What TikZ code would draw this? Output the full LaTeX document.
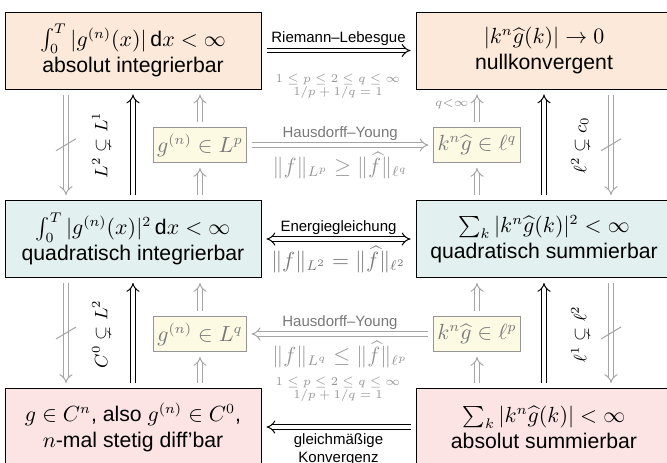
\documentclass[tikz,border=0pt]{standalone}
\usepackage{amsmath,amssymb}
\usepackage{fontspec}
\setmainfont{Liberation Sans}
\usetikzlibrary{arrows.meta,calc}
\definecolor{topfill}{RGB}{253,233,217}
\definecolor{midfill}{RGB}{226,240,239}
\definecolor{botfill}{RGB}{252,228,228}
\definecolor{yfill}{RGB}{253,250,228}
\definecolor{garrow}{RGB}{165,165,165}
\definecolor{gtext}{RGB}{120,120,120}
\definecolor{gmathc}{RGB}{150,150,150}
\begin{document}
\begin{tikzpicture}[x=0.5pt,y=-0.5pt,
  bigbox/.style={draw=black, line width=0.5pt, minimum width=128pt, minimum height=38.5pt,
    align=center, inner sep=0pt, font=\fontsize{10.6}{13}\selectfont},
  topbox/.style={bigbox, fill=topfill},
  midbox/.style={bigbox, fill=midfill},
  botbox/.style={bigbox, fill=botfill},
  ybox/.style={draw=gmathc, line width=0.5pt, fill=yfill, text=gtext,
    minimum height=17.5pt, inner xsep=1.8pt, inner ysep=0pt, font=\fontsize{10.6}{13}\selectfont},
  imp/.style={double, double distance=1.8pt, line width=0.5pt, -{Implies}, shorten <=2.5pt, shorten >=2.5pt},
  gimp/.style={imp, draw=garrow},
  lab/.style={font=\fontsize{7.5}{9}\selectfont, inner sep=2pt},
  glab/.style={lab, text=gtext},
  gmath/.style={font=\fontsize{10.6}{11}\selectfont, text=gmathc, inner sep=3.2pt},
  cond/.style={font=\fontsize{6.5}{6.5}\selectfont, text=gmathc, align=center, inner sep=0pt},
  rotlab/.style={rotate=90, font=\fontsize{9}{10}\selectfont, inner sep=0pt},
  slash/.style={draw=garrow, line width=0.5pt}
]
\clip (0,0) rectangle (667,462);
\useasboundingbox (0,0) rectangle (667,462);
% main boxes
\node[topbox] (A) at (133,50.5) {$\int_0^T|g^{(n)}(x)|\,\mathrm{d}x<\infty$\\absolut integrierbar};
\node[topbox] (B) at (544,50.5) {$|k^n\widehat{g}(k)|\to 0$\\nullkonvergent};
\node[midbox] (C) at (133,239) {$\int_0^T|g^{(n)}(x)|^2\,\mathrm{d}x<\infty$\\quadratisch integrierbar};
\node[midbox] (D) at (544,239) {$\sum_k|k^n\widehat{g}(k)|^2<\infty$\\quadratisch summierbar};
\node[botbox] (E) at (133,427) {$g\in C^n$, also $g^{(n)}\in C^0$,\\$n$-mal stetig diff'bar};
\node[botbox] (F) at (544,427) {$\sum_k|k^n\widehat{g}(k)|<\infty$\\absolut summierbar};
% yellow boxes
\node[ybox] (P) at (200,145) {$g^{(n)}\in L^p$};
\node[ybox] (Q) at (477,145) {$k^n\widehat{g}\in\ell^q$};
\node[ybox] (R) at (200,334) {$g^{(n)}\in L^q$};
\node[ybox] (S) at (477,334) {$k^n\widehat{g}\in\ell^p$};
% column coordinates
\coordinate (xl) at (66,0);
\coordinate (xr) at (611,0);
% horizontal arrows
\draw[imp] (A.east) -- node[above, lab]{Riemann--Lebesgue} (B.west);
\draw[imp, {Implies}-{Implies}] (C.east) -- node[above, lab]{Energiegleichung}
   node[below, gmath, text=gtext]{$\|f\|_{L^2}=\|\widehat{f}\|_{\ell^2}$} (D.west);
\draw[imp] (F.west) -- node[below, lab, align=center, yshift=-1pt]{gleichmäßige\\Konvergenz} (E.east);
\draw[gimp] (P.east) -- node[above, glab]{Hausdorff--Young}
   node[below, gmath]{$\|f\|_{L^p}\ge\|\widehat{f}\|_{\ell^q}$} (Q.west);
\draw[gimp] (S.west) -- node[above, glab]{Hausdorff--Young}
   node[below, gmath]{$\|f\|_{L^q}\le\|\widehat{f}\|_{\ell^p}$} (R.east);
% conditions
\node[cond] (c1) at (338,86) {$1\le p\le 2\le q\le\infty$\\$1/p+1/q=1$};
\node[cond] (c2) at (338,389) {$1\le p\le 2\le q\le\infty$\\$1/p+1/q=1$};
% upper vertical arrows
\draw[gimp] (A.south -| xl) -- coordinate[midway] (m1) (C.north -| xl);
\draw[imp] (C.north) -- (A.south);
\draw[gimp] (C.north -| P.south) -- (P.south);
\draw[gimp] (P.north) -- (A.south -| P.north);
\draw[gimp] (D.north -| Q.south) -- (Q.south);
\draw[gimp] (Q.north) -- (B.south -| Q.north);
\draw[imp] (D.north) -- (B.south);
\draw[gimp] (B.south -| xr) -- coordinate[midway] (m2) (D.north -| xr);
% lower vertical arrows
\draw[gimp] (C.south -| xl) -- coordinate[midway] (m3) (E.north -| xl);
\draw[imp] (E.north) -- (C.south);
\draw[gimp] (E.north -| R.south) -- (R.south);
\draw[gimp] (R.north) -- (C.south -| R.north);
\draw[gimp] (F.north -| S.south) -- (S.south);
\draw[gimp] (S.north) -- (D.south -| S.north);
\draw[imp] (F.north) -- (D.south);
\draw[gimp] (D.south -| xr) -- coordinate[midway] (m4) (F.north -| xr);
% slashes
\foreach \m in {m1,m2,m3,m4}{
  \draw[slash] ($(\m)+(-10,6)$) -- ($(\m)+(10,-6)$);
}
% rotated labels
\node[rotlab] (l1) at (101,145) {$L^2\subsetneq L^1$};
\node[rotlab] (l2) at (580,145) {$\ell^2\subsetneq c_0$};
\node[rotlab] (l3) at (101,334) {$C^0\subsetneq L^2$};
\node[rotlab] (l4) at (580,334) {$\ell^1\subsetneq \ell^2$};
\node[font=\fontsize{6}{6}\selectfont, text=gmathc, anchor=east, inner sep=1pt] (qi) at (471,104) {$q{<}\infty$};
\end{tikzpicture}
\end{document}
